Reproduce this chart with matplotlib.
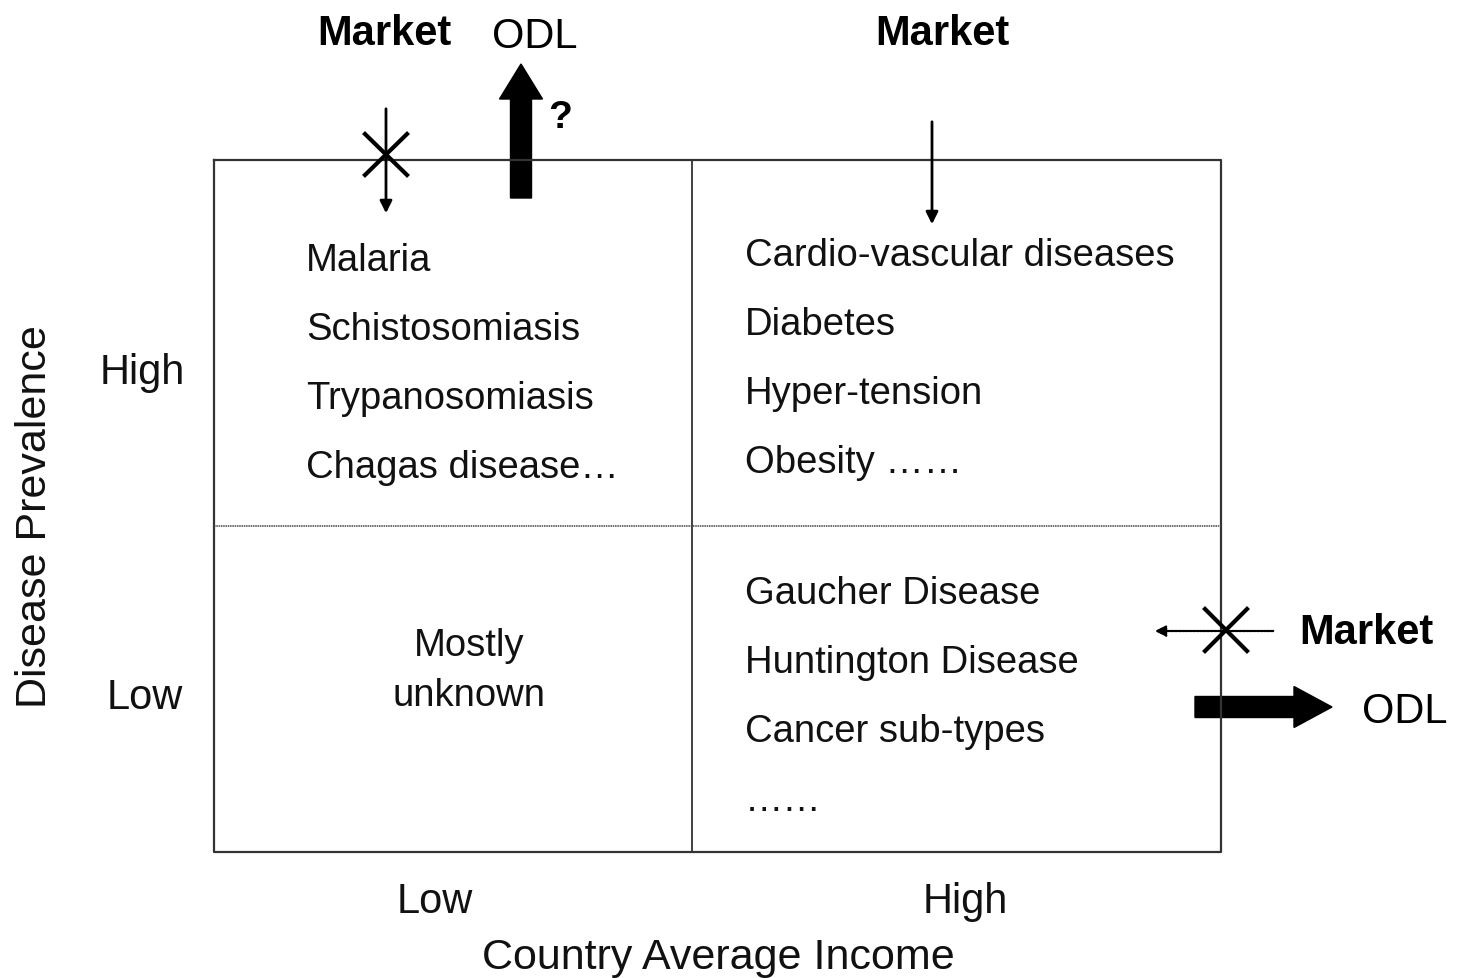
import matplotlib.pyplot as plt

plt.rcParams['font.family'] = ['Liberation Sans', 'DejaVu Sans']

# quadrant contents
high_low_income = ["Malaria", "Schistosomiasis", "Trypanosomiasis", "Chagas disease…"]
high_high_income = ["Cardio-vascular diseases", "Diabetes", "Hyper-tension", "Obesity ……"]
low_high_income = ["Gaucher Disease", "Huntington Disease", "Cancer sub-types", "……"]
low_low_income = "Mostly\nunknown"

income_labels = ["Low", "High"]
prevalence_labels = ["High", "Low"]
x_title = "Country Average Income"
y_title = "Disease Prevalence"

fig = plt.figure(figsize=(14.57, 9.79), dpi=100)
ax = fig.add_axes([0, 0, 1, 1])
ax.set_xlim(0, 1457)
ax.set_ylim(979, 0)
ax.axis('off')

# grid box
L, R, T, B = 214, 1221, 161, 853
XM, YM = 692, 527
ax.plot([L, R, R, L, L], [T, T, B, B, T], color='#333333', lw=1.6)
ax.plot([XM, XM], [T, B], color='#333333', lw=1.3)
ax.plot([L, R], [YM, YM], color='#444444', lw=1.1, ls=(0, (1, 0.5)))

fs = 27.5
tc = '#111111'
for i, s in enumerate(high_low_income):
    ax.text(306, 261 + i * 69, s, fontsize=fs, va='center', ha='left', color=tc)
for i, s in enumerate(high_high_income):
    ax.text(745, 256 + i * 69, s, fontsize=fs, va='center', ha='left', color=tc)
for i, s in enumerate(low_high_income):
    ax.text(745, 594 + i * 69, s, fontsize=fs, va='center', ha='left', color=tc)
ax.text(469, 671, low_low_income, fontsize=fs, va='center', ha='center',
        linespacing=1.5, color=tc)

# axis labels
ax.text(435, 902, income_labels[0], fontsize=30, ha='center', va='center', color=tc)
ax.text(965, 902, income_labels[1], fontsize=30, ha='center', va='center', color=tc)
ax.text(718, 958, x_title, fontsize=31, ha='center', va='center', color=tc)
ax.text(142, 373, prevalence_labels[0], fontsize=30, ha='center', va='center', color=tc)
ax.text(145, 698, prevalence_labels[1], fontsize=30, ha='center', va='center', color=tc)
ax.text(35, 517, y_title, fontsize=31, ha='center', va='center', rotation=90, color=tc)

# top left: blocked market, ODL up
ax.text(384, 34, "Market", fontsize=30, fontweight='bold', ha='center', va='center')
ax.text(535, 37, "ODL", fontsize=30, ha='center', va='center')
ax.annotate('', xy=(386, 217), xytext=(386, 107),
            arrowprops=dict(arrowstyle='-|>', lw=2, color='black', mutation_scale=18))
ax.plot([365, 407], [135, 176], color='black', lw=3)
ax.plot([365, 407], [176, 135], color='black', lw=3)
ax.arrow(521, 199, 0, -134, width=21, head_width=43, head_length=35,
         length_includes_head=True, color='black')
ax.text(560, 118, "?", fontsize=28, fontweight='bold', ha='center', va='center')

# top right: market down
ax.text(942, 34, "Market", fontsize=30, fontweight='bold', ha='center', va='center')
ax.annotate('', xy=(932, 228), xytext=(932, 120),
            arrowprops=dict(arrowstyle='-|>', lw=2, color='black', mutation_scale=18))

# right side: market blocked, ODL right
ax.text(1366, 633, "Market", fontsize=30, fontweight='bold', ha='center', va='center')
ax.text(1405, 712, "ODL", fontsize=30, ha='center', va='center')
ax.annotate('', xy=(1152, 632), xytext=(1276, 632),
            arrowprops=dict(arrowstyle='-|>', lw=1.6, ls=(0, (1, 0.6)), color='black',
                            mutation_scale=16))
ax.plot([1205, 1247], [610, 652], color='black', lw=3)
ax.plot([1205, 1247], [652, 610], color='black', lw=3)
ax.arrow(1195, 708, 137, 0, width=21, head_width=41, head_length=38,
         length_includes_head=True, color='black')

fig.savefig('out.png', dpi=100, facecolor='white')
